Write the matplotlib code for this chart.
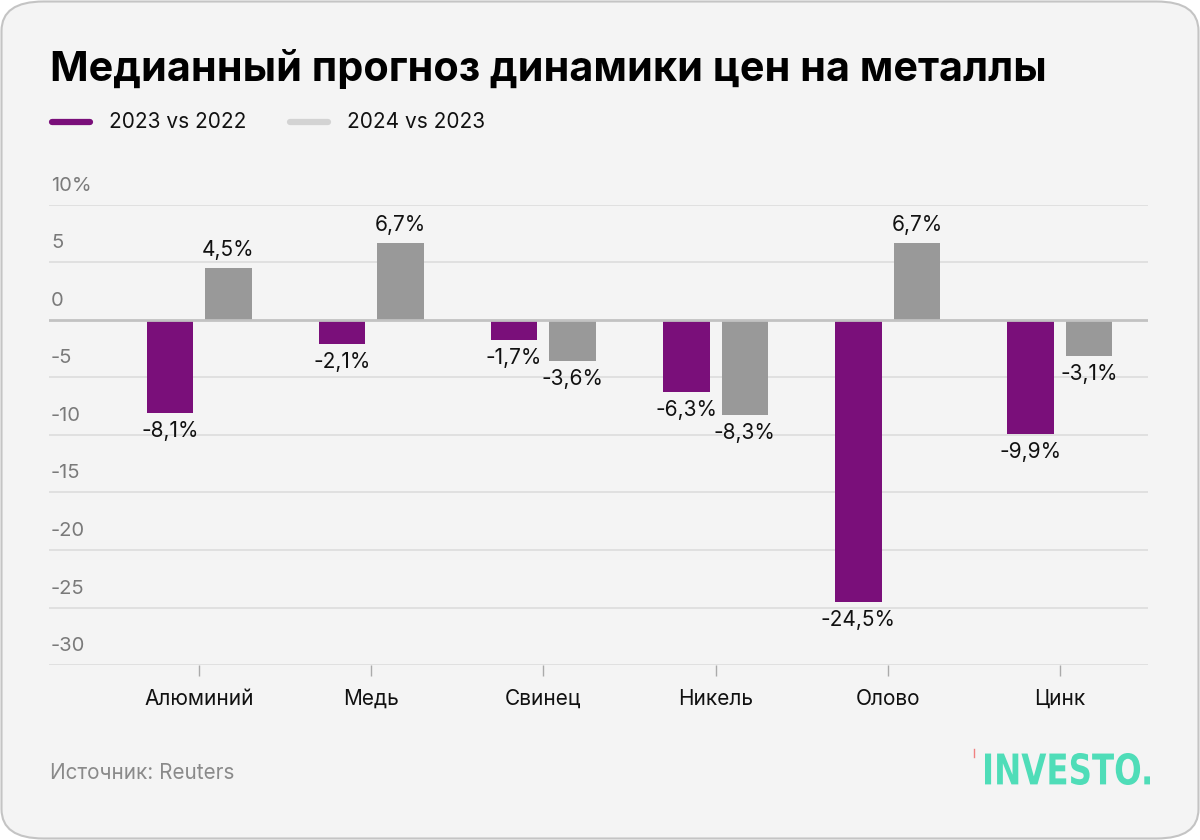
import matplotlib
matplotlib.use("Agg")
from matplotlib import pyplot as plt
from matplotlib.patches import FancyBboxPatch, PathPatch
from matplotlib.lines import Line2D
from matplotlib.textpath import TextPath
from matplotlib.font_manager import FontProperties
from matplotlib.transforms import Affine2D, IdentityTransform
import numpy as np

plt.rcParams['font.family'] = ['Inter', 'DejaVu Sans']

categories = ['Алюминий', 'Медь', 'Свинец', 'Никель', 'Олово', 'Цинк']
change_2023 = [-8.1, -2.1, -1.7, -6.3, -24.5, -9.9]
change_2024 = [4.5, 6.7, -3.6, -8.3, 6.7, -3.1]
series_names = ['2023 vs 2022', '2024 vs 2023']
yticks = [10, 5, 0, -5, -10, -15, -20, -25, -30]
ytick_labels = ['10%', '5', '0', '-5', '-10', '-15', '-20', '-25', '-30']

purple = '#7a0f7a'
grey = '#999999'
bg = '#f4f4f4'

W, H = 1200, 840
fig = plt.figure(figsize=(12, 8.4), dpi=100)
fig.patch.set_facecolor('white')

# rounded card
card = FancyBboxPatch((1.5 / W, 1.5 / H), 1 - 3 / W, 1 - 3 / H,
                      boxstyle="round,pad=0,rounding_size=0.035",
                      transform=fig.transFigure, facecolor=bg,
                      edgecolor='#c4c4c4', linewidth=1.5, zorder=-10)
fig.patches.append(card)

# axes: x from 49 to 1148 px, y from 205 (10) to 665 (-30)
left, right, top, bottom = 49, 1148, 205, 665
ax = fig.add_axes([left / W, 1 - bottom / H, (right - left) / W, (bottom - top) / H])
ax.set_facecolor('none')

x = np.arange(len(categories))
bw = 0.27
off = 0.17
b1 = ax.bar(x - off, change_2023, bw, color=purple, zorder=3)
b2 = ax.bar(x + off, change_2024, bw, color=grey, zorder=3)

ax.set_xlim(-0.872, 5.512)
ax.set_ylim(-30, 10)

for s in ax.spines.values():
    s.set_visible(False)

for t, lab in zip(yticks, ytick_labels):
    col = '#c2c2c2' if t == 0 else '#dcdcdc'
    lw = 2.0 if t == 0 else 1.2
    ax.axhline(t, color=col, lw=lw, zorder=4 if t == 0 else 1)
    ax.annotate(lab, xy=(0, t), xycoords=('axes fraction', 'data'),
                xytext=(2, 19), textcoords='offset pixels', ha='left', va='center',
                fontsize=14.5, color='#7a7a7a', annotation_clip=False)

ax.set_yticks([])
ax.set_xticks(x)
ax.set_xticklabels(categories, fontsize=15, color='#111111')
ax.tick_params(axis='x', length=8, width=1, color='#aaaaaa', pad=9)

def fmt(v):
    return f"{v:.1f}%".replace('.', ',')

for bars, vals in ((b1, change_2023), (b2, change_2024)):
    for rect, v in zip(bars, vals):
        cx = rect.get_x() + rect.get_width() / 2
        dy = 18 if v >= 0 else -18
        ax.annotate(fmt(v), xy=(cx, v), xytext=(0, dy), textcoords='offset pixels',
                    ha='center', va='center', fontsize=15, color='#111111')

# title
fig.text(50 / W, 1 - 69 / H, 'Медианный прогноз динамики цен на металлы',
         fontsize=29.8, fontweight='bold', color='#000000', ha='left', va='center')

# legend
ly = 1 - 122 / H
fig.add_artist(Line2D([52 / W, 90 / W], [ly, ly], color=purple, lw=4.5,
                      solid_capstyle='round', transform=fig.transFigure))
fig.text(109 / W, ly, series_names[0], fontsize=15, ha='left', va='center', color='#111111')
fig.add_artist(Line2D([290 / W, 328 / W], [ly, ly], color='#d3d3d3', lw=4.5,
                      solid_capstyle='round', transform=fig.transFigure))
fig.text(347 / W, ly, series_names[1], fontsize=15, ha='left', va='center', color='#111111')

# footer
fig.text(50 / W, 1 - 773 / H, 'Источник: Reuters', fontsize=14.9, color='#8a8a8a',
         ha='left', va='center')

# logo, squeezed into its box (985..1150 px wide, 753..785 px tall)
tp = TextPath((0, 0), 'INVESTO.', size=40,
              prop=FontProperties(family='DejaVu Sans', weight='bold'))
ext = tp.get_extents()
x0, x1, y0, y1 = 985, 1150, H - 785, H - 753
tr = (Affine2D().translate(-ext.x0, -ext.y0)
      .scale((x1 - x0) / ext.width, (y1 - y0) / ext.height)
      .translate(x0, y0))
logo = PathPatch(tr.transform_path(tp), facecolor='#4fddb8', edgecolor='none',
                 transform=IdentityTransform())
fig.patches.append(logo)
fig.add_artist(Line2D([973.5 / W, 973.5 / W], [1 - 749 / H, 1 - 757 / H],
                      color='#f08080', lw=1, transform=fig.transFigure))

fig.savefig('out.png', dpi=100, facecolor='white')
